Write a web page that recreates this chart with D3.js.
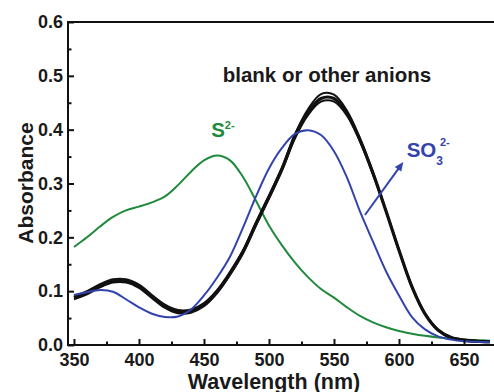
<!DOCTYPE html>
<html>
<head>
<meta charset="utf-8">
<script src="https://cdn.jsdelivr.net/npm/d3@7"></script>
<style>
  html, body { margin: 0; padding: 0; background: #fff; }
  svg { display: block; }
  text { font-family: "Liberation Sans", Arial, Helvetica, sans-serif; font-weight: bold; }
</style>
</head>
<body>
<svg id="chart" width="494" height="392"></svg>
<script>
// ---------- data ----------
const wavelengths = [350,360,370,380,390,400,410,420,430,440,450,460,470,480,490,500,510,520,530,540,550,560,570,580,590,600,610,620,630,640,650,660,670];

const sulfide = [0.182,0.200,0.220,0.238,0.250,0.257,0.265,0.276,0.297,0.322,0.343,0.352,0.343,0.312,0.268,0.222,0.185,0.153,0.126,0.104,0.088,0.070,0.054,0.042,0.033,0.026,0.021,0.017,0.014,0.012,0.010,0.009,0.008];

const sulfite = [0.093,0.098,0.102,0.099,0.085,0.070,0.058,0.052,0.053,0.066,0.092,0.125,0.164,0.218,0.276,0.328,0.366,0.392,0.399,0.390,0.360,0.311,0.248,0.192,0.137,0.092,0.052,0.029,0.016,0.010,0.007,0.006,0.005];

const blankMain = [0.088,0.097,0.110,0.119,0.119,0.109,0.090,0.072,0.062,0.063,0.075,0.099,0.133,0.173,0.225,0.275,0.327,0.388,0.432,0.458,0.458,0.430,0.381,0.319,0.249,0.176,0.108,0.058,0.028,0.014,0.009,0.007,0.006];
const blankHigh = [0.091,0.100,0.113,0.122,0.122,0.112,0.093,0.075,0.065,0.066,0.078,0.102,0.136,0.176,0.228,0.278,0.330,0.392,0.438,0.466,0.465,0.435,0.384,0.321,0.250,0.177,0.109,0.059,0.029,0.015,0.010,0.008,0.007];
const blankLow  = [0.085,0.094,0.107,0.116,0.116,0.106,0.087,0.069,0.059,0.060,0.072,0.096,0.130,0.170,0.222,0.272,0.324,0.384,0.427,0.452,0.452,0.426,0.378,0.317,0.248,0.175,0.107,0.057,0.027,0.013,0.008,0.006,0.005];

const xTicks = [350,400,450,500,550,600,650];
const xMinorTicks = [375,425,475,525,575,625,675];
const yTicks = [0.0,0.1,0.2,0.3,0.4,0.5,0.6];
const yMinorTicks = [0.05,0.15,0.25,0.35,0.45,0.55];

const xTitle = "Wavelength (nm)";
const yTitle = "Absorbance";

// ---------- layout ----------
const svg = d3.select("#chart");
const x = d3.scaleLinear().domain([345.4, 675]).range([68, 496.5]);
const y = d3.scaleLinear().domain([0, 0.6]).range([345, 22]);

const black = "#111111", green = "#1f8a3b", blue = "#3343ad";

svg.append("defs").append("clipPath").attr("id","plotclip")
  .append("rect").attr("x", x(345.4)).attr("y", y(0.6)).attr("width", 494 - x(345.4)).attr("height", y(0) - y(0.6));

const line = (vals) => d3.line()
  .x((d, i) => x(wavelengths[i]))
  .y(d => y(d))
  .curve(d3.curveCatmullRom.alpha(0.5))(vals);

const g = svg.append("g").attr("clip-path","url(#plotclip)");
g.append("path").attr("d", line(sulfide)).attr("fill","none").attr("stroke",green).attr("stroke-width",2);
g.append("path").attr("d", line(blankHigh)).attr("fill","none").attr("stroke",black).attr("stroke-width",2);
g.append("path").attr("d", line(blankLow)).attr("fill","none").attr("stroke",black).attr("stroke-width",2);
g.append("path").attr("d", line(blankMain)).attr("fill","none").attr("stroke",black).attr("stroke-width",3.2);
g.append("path").attr("d", line(sulfite)).attr("fill","none").attr("stroke",blue).attr("stroke-width",2);

// ---------- axes ----------
const xAxis = d3.axisBottom(x).tickValues(xTicks).tickSize(-6).tickPadding(8).tickFormat(d3.format("d"));
const xAxisMinor = d3.axisBottom(x).tickValues(xMinorTicks).tickSize(-3.5).tickFormat("");
const yAxis = d3.axisLeft(y).tickValues(yTicks).tickSize(-6).tickPadding(5).tickFormat(d3.format(".1f"));
const yAxisMinor = d3.axisLeft(y).tickValues(yMinorTicks).tickSize(-3.5).tickFormat("");

function styleAxis(sel) {
  sel.select(".domain").remove();
  sel.selectAll(".tick line").attr("stroke", black).attr("stroke-width", 2);
  sel.selectAll(".tick text").attr("fill", "#1a1a1a").style("font-size", "18px");
}

svg.append("g").attr("transform", `translate(0,${y(0)})`).call(xAxis).call(styleAxis)
  .selectAll(".tick text").attr("dy", "0.71em");
svg.append("g").attr("transform", `translate(0,${y(0)})`).call(xAxisMinor).call(styleAxis);
svg.append("g").attr("transform", `translate(${x(345.4)},0)`).call(yAxis).call(styleAxis);
svg.append("g").attr("transform", `translate(${x(345.4)},0)`).call(yAxisMinor).call(styleAxis);

// frame lines (left, bottom, top)
svg.append("line").attr("x1", x(345.4)).attr("x2", 494).attr("y1", y(0)).attr("y2", y(0)).attr("stroke", black).attr("stroke-width", 2);
svg.append("line").attr("x1", x(345.4)).attr("x2", 494).attr("y1", y(0.6)).attr("y2", y(0.6)).attr("stroke", black).attr("stroke-width", 2);
svg.append("line").attr("x1", x(345.4)).attr("x2", x(345.4)).attr("y1", y(0.6) - 1).attr("y2", y(0) + 1).attr("stroke", black).attr("stroke-width", 2);

// axis titles
svg.append("text").attr("x", 274).attr("y", 388.5).attr("text-anchor","middle")
  .style("font-size","21.5px").attr("fill","#1a1a1a").text(xTitle);
svg.append("text").attr("transform", "translate(33,183) rotate(-90)").attr("text-anchor","middle")
  .style("font-size","21px").attr("fill","#1a1a1a").text(yTitle);

// annotations
svg.append("text").attr("x", x(464.4)).attr("y", y(0.489)).style("font-size","20.5px").attr("fill","#1a1a1a")
  .text("blank or other anions");

const s = svg.append("text").attr("x", x(455.5)).attr("y", y(0.387)).attr("fill", green).style("font-size","20.5px");
s.append("tspan").text("S");
s.append("tspan").attr("dy", -8).style("font-size","11px").text("2-");

const so = svg.append("text").attr("x", x(605.9)).attr("y", y(0.350)).attr("fill", blue).style("font-size","20.5px");
so.append("tspan").text("SO");
so.append("tspan").attr("dy", 8).style("font-size","12px").text("3");
so.append("tspan").attr("dx", -3).attr("dy", -19).style("font-size","11px").text("2-");

// arrow
const ax1 = x(573.8), ay1 = y(0.2415), ax2 = x(603.3), ay2 = y(0.340);
const ang = Math.atan2(ay2 - ay1, ax2 - ax1);
svg.append("line").attr("x1", ax1).attr("y1", ay1).attr("x2", ax2 - 6*Math.cos(ang)).attr("y2", ay2 - 6*Math.sin(ang))
  .attr("stroke", blue).attr("stroke-width", 2);
const hl = 9, hw = 4;
const pts = [
  [ax2, ay2],
  [ax2 - hl*Math.cos(ang) + hw*Math.sin(ang), ay2 - hl*Math.sin(ang) - hw*Math.cos(ang)],
  [ax2 - hl*Math.cos(ang) - hw*Math.sin(ang), ay2 - hl*Math.sin(ang) + hw*Math.cos(ang)]
];
svg.append("polygon").attr("points", pts.map(p => p.join(",")).join(" ")).attr("fill", blue);
</script>
</body>
</html>
